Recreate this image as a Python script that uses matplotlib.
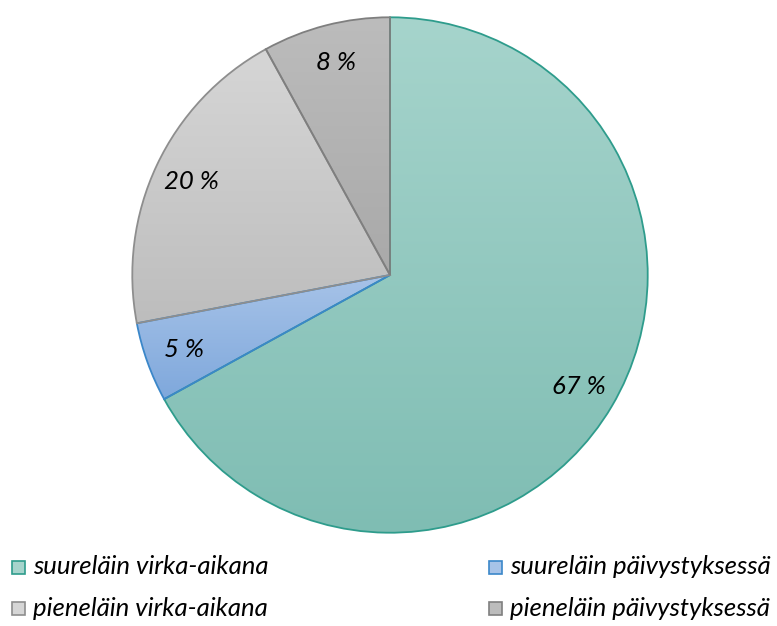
import matplotlib.pyplot as plt
import matplotlib.patches as mpatches
import numpy as np
from matplotlib.colors import LinearSegmentedColormap

# data
labels = ['suureläin virka-aikana', 'suureläin päivystyksessä',
          'pieneläin virka-aikana', 'pieneläin päivystyksessä']
values = [67, 5, 20, 8]
top_colors = ['#a6d4cc', '#a7c3e8', '#d6d6d6', '#bcbcbc']
bottom_colors = ['#7fbdb3', '#7fa8dc', '#bdbdbd', '#a9a9a9']
edge_colors = ['#2e9c8c', '#3b87c9', '#8e8e8e', '#7f7f7f']

font = 'Lato'
fs = 18.5

fig = plt.figure(figsize=(7.77, 6.26), dpi=100)
ax = fig.add_axes([131 / 777, 92 / 626, 518 / 777, 518 / 626])

wedges, texts = ax.pie(values, startangle=90, counterclock=False, radius=1,
                       labels=[f'{v} %' for v in values], labeldistance=0.85,
                       wedgeprops=dict(linewidth=1.3),
                       textprops=dict(fontsize=fs, style='italic', family=font))
for t in texts:
    t.set_ha('center')
    t.set_va('center')

# gradient fill for every slice
for w, c1, c2, ec in zip(wedges, top_colors, bottom_colors, edge_colors):
    w.set_facecolor('none')
    w.set_edgecolor(ec)
    w.set_zorder(3)
    verts = w.get_path().vertices
    x0, x1 = verts[:, 0].min(), verts[:, 0].max()
    y0, y1 = verts[:, 1].min(), verts[:, 1].max()
    cmap = LinearSegmentedColormap.from_list('g', [c2, c1])
    grad = np.linspace(0, 1, 256).reshape(-1, 1)
    im = ax.imshow(grad, cmap=cmap, origin='lower', extent=[x0, x1, y0, y1],
                   aspect='auto', zorder=1)
    im.set_clip_path(w)

for t in texts:
    t.set_zorder(5)

ax.set_xlim(-1.005, 1.005)
ax.set_ylim(-1.005, 1.005)
ax.set_aspect('equal')
ax.axis('off')

# legend drawn by hand, 2 x 2
pos = [(12, 567), (489, 567), (12, 608), (489, 608)]
for (px, py), lab, c1, c2, ec in zip(pos, labels, top_colors, bottom_colors, edge_colors):
    sq = mpatches.Rectangle((px / 777, (626 - py - 7) / 626), 13 / 777, 13 / 626,
                            transform=fig.transFigure, facecolor=c1,
                            edgecolor=ec, linewidth=1.2)
    fig.add_artist(sq)
    fig.text((px + 21) / 777, (626 - py) / 626, lab, fontsize=fs, style='italic',
             family=font, va='center', ha='left')

fig.savefig('out.png', dpi=100)
